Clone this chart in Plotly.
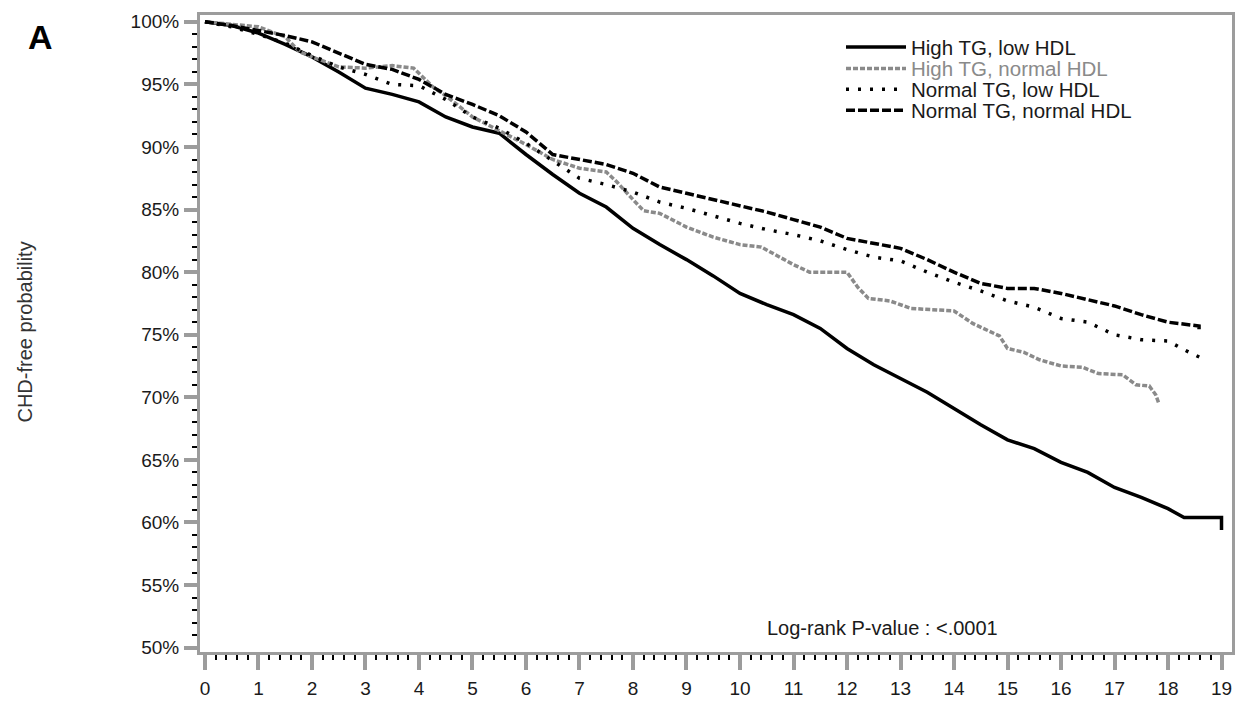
import plotly.graph_objects as go

# ---- data ----
years_hl = [0, 0.5, 1, 1.5, 2, 2.5, 3, 3.5, 4, 4.5, 5, 5.5, 6, 6.5, 7, 7.5, 8, 8.5, 9, 9.5,
            10, 10.5, 11, 11.5, 12, 12.5, 13, 13.5, 14, 14.5, 15, 15.5, 16, 16.5, 17, 17.5,
            18, 18.3, 19, 19]
surv_hl = [100, 99.7, 99.1, 98.2, 97.2, 96.0, 94.7, 94.2, 93.6, 92.4, 91.6, 91.1, 89.4, 87.8,
           86.3, 85.2, 83.5, 82.2, 81.0, 79.7, 78.3, 77.4, 76.6, 75.5, 73.9, 72.6, 71.5, 70.4,
           69.1, 67.8, 66.6, 65.9, 64.8, 64.0, 62.8, 62.0, 61.1, 60.4, 60.4, 59.4]

years_hn = [0, 0.5, 1, 1.5, 1.77, 2, 2.5, 3, 3.5, 3.9, 4.26, 4.5, 5, 5.5, 6, 6.5, 7, 7.5, 7.7,
            8, 8.2, 8.5, 9, 9.5, 10, 10.4, 11, 11.3, 12, 12.2, 12.4, 12.8, 13.2, 14, 14.35,
            14.85, 15, 15.3, 15.6, 16, 16.4, 16.7, 17.15, 17.4, 17.65, 17.77, 17.83]
surv_hn = [100, 99.8, 99.6, 98.8, 97.6, 97.2, 96.4, 96.3, 96.5, 96.3, 94.8, 94.1, 92.4, 91.3,
           90.2, 89.0, 88.3, 88.0, 87.2, 85.8, 84.9, 84.7, 83.6, 82.8, 82.2, 82.0, 80.6, 80.0,
           80.0, 78.8, 77.9, 77.7, 77.1, 76.9, 75.9, 74.9, 73.9, 73.6, 73.0, 72.5, 72.4, 71.9,
           71.8, 71.0, 70.9, 70.2, 69.5]

years_nl = [0, 0.5, 1, 1.5, 2, 2.5, 3, 3.5, 4, 4.5, 5, 5.5, 6, 6.5, 7, 7.5, 8, 8.5, 9, 9.5,
            10, 10.5, 11, 11.5, 12, 12.5, 13, 13.5, 14, 14.5, 15, 15.5, 16, 16.5, 17, 17.5,
            18, 18.3, 18.64]
surv_nl = [100, 99.6, 99.0, 98.3, 97.3, 96.4, 95.8, 95.0, 94.9, 93.8, 92.4, 91.5, 90.3, 88.9,
           87.5, 87.0, 86.4, 85.6, 85.1, 84.5, 83.9, 83.4, 83.0, 82.5, 81.8, 81.2, 80.9, 80.0,
           79.2, 78.5, 77.7, 77.2, 76.3, 76.0, 75.0, 74.6, 74.5, 73.8, 73.1]

years_nn = [0, 0.5, 1, 1.5, 2, 2.5, 3, 3.5, 4, 4.5, 5, 5.5, 6, 6.5, 7, 7.5, 8, 8.5, 9, 9.5,
            10, 10.5, 11, 11.5, 12, 12.5, 13, 13.5, 14, 14.5, 15, 15.5, 16, 16.5, 17, 17.5,
            18, 18.58, 18.58]
surv_nn = [100, 99.7, 99.3, 98.9, 98.4, 97.5, 96.6, 96.2, 95.4, 94.2, 93.4, 92.5, 91.2, 89.4,
           89.0, 88.6, 87.9, 86.8, 86.3, 85.8, 85.3, 84.8, 84.2, 83.6, 82.7, 82.3, 81.9, 81.0,
           80.0, 79.1, 78.7, 78.7, 78.3, 77.8, 77.3, 76.6, 76.0, 75.7, 75.3]

series_names = ["High TG, low HDL", "High TG, normal HDL", "Normal TG, low HDL",
                "Normal TG, normal HDL"]
x_ticks = list(range(0, 20))
y_ticks = [50, 55, 60, 65, 70, 75, 80, 85, 90, 95, 100]
y_tick_labels = [f"{v}%" for v in y_ticks]

FONT = "Liberation Sans, Arial, sans-serif"
GRAY = "#8a8a8a"
AXIS_GRAY = "#9c9c9c"
TXT = "#1a1a1a"

# figure geometry (px) for placing text
W, H = 1253, 711
ML, MR, MT, MB = 200, 21, 14, 43
PW, PH = W - ML - MR, H - MT - MB


def px_x(x):
    return (x - ML) / PW


def px_y(y):
    return 1 - (y - MT) / PH


styles = [
    dict(color="black", width=3.5),
    dict(color=GRAY, width=3.5, dash="5px,2px"),
    dict(color="black", width=3.5, dash="3px,9px"),
    dict(color="black", width=3.5, dash="9px,3px"),
]
data = [(years_hl, surv_hl), (years_hn, surv_hn), (years_nl, surv_nl), (years_nn, surv_nn)]
legend_ids = ["legend", "legend2", "legend3", "legend4"]
legend_rows = [47, 69, 90.5, 112]
text_colors = [TXT, GRAY, TXT, TXT]

fig = go.Figure()
for (xs, ys), name, st, lid in zip(data, series_names, styles, legend_ids):
    fig.add_trace(go.Scatter(x=xs, y=ys, mode="lines", name=name, line=st, legend=lid))

legend_layout = {}
for lid, row, col in zip(legend_ids, legend_rows, text_colors):
    legend_layout[lid] = dict(
        x=px_x(841), y=px_y(row), xanchor="left", yanchor="middle",
        bgcolor="rgba(0,0,0,0)", itemwidth=60,
        font=dict(family=FONT, size=20.5, color=col))

fig.update_layout(
    width=W, height=H,
    margin=dict(l=ML, r=MR, t=MT, b=MB),
    paper_bgcolor="white", plot_bgcolor="white",
    font=dict(family=FONT, size=19, color=TXT),
    showlegend=True,
    xaxis=dict(range=[-0.093, 19.196], tickmode="array", tickvals=x_ticks,
               showgrid=False, zeroline=False, showline=True, linecolor=AXIS_GRAY,
               linewidth=3, mirror=True, ticks="outside", ticklen=15, tickwidth=4,
               tickcolor=AXIS_GRAY, tickfont=dict(size=19), ticklabelstandoff=2,
               minor=dict(dtick=0.2, tick0=0, ticks="outside", ticklen=5, tickwidth=2,
                          tickcolor="black", showgrid=False)),
    yaxis=dict(range=[49.65, 100.545], tickmode="array", tickvals=y_ticks,
               ticktext=y_tick_labels, showgrid=False, zeroline=False, showline=True,
               linecolor=AXIS_GRAY, linewidth=3, mirror=True, ticks="outside", ticklen=13,
               tickwidth=4, tickcolor=AXIS_GRAY, tickfont=dict(size=19),
               ticklabelstandoff=1,
               minor=dict(dtick=1, tick0=50, ticks="outside", ticklen=5, tickwidth=2,
                          tickcolor="black", showgrid=False)),
    annotations=[
        dict(text="<b>A</b>", x=px_x(40), y=px_y(37), xref="paper", yref="paper",
             xanchor="center", yanchor="middle", showarrow=False,
             font=dict(family=FONT, size=34, color="black")),
        dict(text="CHD-free probability", x=px_x(25), y=px_y(340), xref="paper",
             yref="paper", xanchor="center", yanchor="middle", showarrow=False,
             textangle=-90, font=dict(family=FONT, size=20, color="#333")),
        dict(text="Log-rank P-value : <.0001", x=px_x(882), y=px_y(643), xref="paper",
             yref="paper", xanchor="center", yanchor="middle", showarrow=False,
             font=dict(family=FONT, size=20, color=TXT)),
    ],
    **legend_layout,
)

css_fix = (
    "var de=document.documentElement,b=document.body;"
    "de.style.margin='0';de.style.padding='0';de.style.overflow='hidden';"
    "b.style.margin='0';b.style.padding='0';b.style.overflow='hidden';"
)

fig.write_html("out.html", config={"displayModeBar": False}, post_script=css_fix)
